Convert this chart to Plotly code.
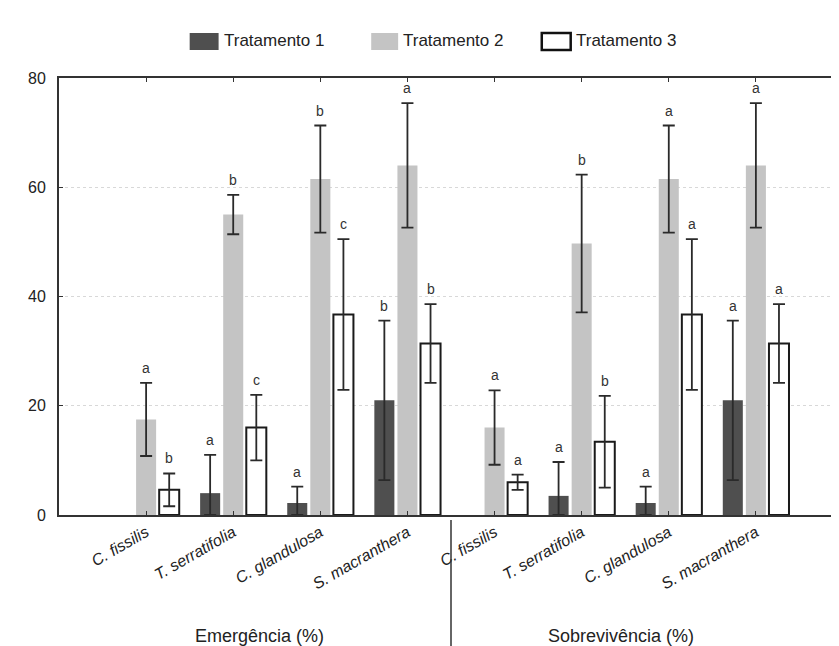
import plotly.graph_objects as go

categories = ["C. fissilis", "T. serratifolia", "C. glandulosa", "S. macranthera",
              "C. fissilis", "T. serratifolia", "C. glandulosa", "S. macranthera"]
groups = ["Emergência (%)", "Sobrevivência (%)"]

t1_vals = [None, 4.0, 2.2, 21.0, None, 3.5, 2.2, 21.0]
t1_err = [None, 7.0, 3.0, 14.6, None, 6.2, 3.0, 14.6]
t1_letters = ["", "a", "a", "b", "", "a", "a", "a"]

t2_vals = [17.5, 55.0, 61.5, 64.0, 16.0, 49.7, 61.5, 64.0]
t2_err = [6.7, 3.6, 9.8, 11.4, 6.8, 12.6, 9.8, 11.4]
t2_letters = ["a", "b", "b", "a", "a", "b", "a", "a"]

t3_vals = [4.6, 16.0, 36.7, 31.4, 6.0, 13.4, 36.7, 31.4]
t3_err = [3.0, 6.0, 13.8, 7.2, 1.4, 8.4, 13.8, 7.2]
t3_letters = ["b", "c", "c", "b", "a", "b", "a", "a"]

names = ["Tratamento 1", "Tratamento 2", "Tratamento 3"]
yticks = [0, 20, 40, 60, 80]

FONT = "Liberation Sans, Arial, sans-serif"
x = list(range(len(categories)))
shift = 0.265
bw = 0.23

series = [
    (t1_vals, t1_err, t1_letters, -shift, "#4f4f4f", "#4f4f4f", 0),
    (t2_vals, t2_err, t2_letters, 0.0, "#c4c4c4", "#c4c4c4", 0),
    (t3_vals, t3_err, t3_letters, shift, "#ffffff", "#1a1a1a", 2),
]

fig = go.Figure()
annotations = []
shapes = []
for (vals, errs, letters, off, fill, lc, lw), name in zip(series, names):
    xs = [xi + off for xi in x]
    fig.add_trace(go.Bar(
        x=xs, y=vals, width=bw, name=name, showlegend=False,
        marker=dict(color=fill, line=dict(color=lc, width=lw)),
        error_y=dict(type="data", symmetric=False,
                     array=errs,
                     arrayminus=[None if (v is None) else min(v, e) for v, e in zip(vals, errs)],
                     color="#2a2a2a", thickness=1.8, width=6),
    ))
    for xi, v, e, l in zip(xs, vals, errs, letters):
        if v is None or not l:
            continue
        annotations.append(dict(x=xi, y=v + e, text=l, showarrow=False,
                                yanchor="bottom", yshift=5,
                                font=dict(size=14, color="#333333", family=FONT)))

# manual legend (paper coordinates of plot area: x 51..837 px, y 70..507 px)
def px_x(p):
    return (p - 51) / 786.0

def px_y(p):
    return (507 - p) / 437.0

leg_swatch = [(182, 211), (364, 391), (535, 564)]
leg_text_x = [214, 394, 567]
leg_fill = ["#4f4f4f", "#c4c4c4", "#ffffff"]
leg_line = [("#4f4f4f", 0), ("#c4c4c4", 0), ("#111111", 2.5)]
for (x0, x1), tx, fc, (lc, lw), name in zip(leg_swatch, leg_text_x, leg_fill, leg_line, names):
    shapes.append(dict(type="rect", xref="paper", yref="paper",
                       x0=px_x(x0), x1=px_x(x1), y0=px_y(42), y1=px_y(25),
                       fillcolor=fc, line=dict(color=lc, width=lw)))
    annotations.append(dict(x=px_x(tx), y=px_y(33), xref="paper", yref="paper",
                            text=name, showarrow=False, xanchor="left", yanchor="middle",
                            font=dict(size=17, color="#222222", family=FONT)))

# group titles
annotations.append(dict(x=1.3, y=0, xref="x", yref="y", yshift=-121, text=groups[0],
                        showarrow=False, yanchor="middle",
                        font=dict(size=18, color="#222222", family=FONT)))
annotations.append(dict(x=5.45, y=0, xref="x", yref="y", yshift=-121, text=groups[1],
                        showarrow=False, yanchor="middle",
                        font=dict(size=18, color="#222222", family=FONT)))

shapes.append(dict(type="line", xref="x", yref="paper", x0=3.5, x1=3.5,
                   y0=px_y(512), y1=px_y(640),
                   line=dict(color="#333333", width=1.5)))

fig.update_layout(
    width=839, height=646,
    margin=dict(l=51, r=2, t=70, b=139),
    paper_bgcolor="white", plot_bgcolor="white",
    barmode="overlay",
    font=dict(family=FONT, color="#222222"),
    showlegend=False,
    annotations=annotations,
    shapes=shapes,
)
fig.update_xaxes(range=[-1, 8], tickvals=x,
                 ticktext=[f"<i>{c}</i>" for c in categories],
                 tickangle=-30, tickfont=dict(size=16, color="#222222"),
                 showline=True, linecolor="#333333", linewidth=2, mirror="ticks",
                 ticks="inside", ticklen=4, tickcolor="#333333",
                 showgrid=False, zeroline=False)
fig.update_yaxes(range=[0, 80], tickvals=yticks, tickfont=dict(size=16, color="#222222"),
                 ticklabelstandoff=8,
                 showline=True, linecolor="#333333", linewidth=2, mirror="ticks",
                 ticks="inside", ticklen=4, tickcolor="#333333",
                 showgrid=True, gridcolor="#d8d8d8", griddash="dot", gridwidth=1,
                 zeroline=False)

fig.write_html("out.html")
